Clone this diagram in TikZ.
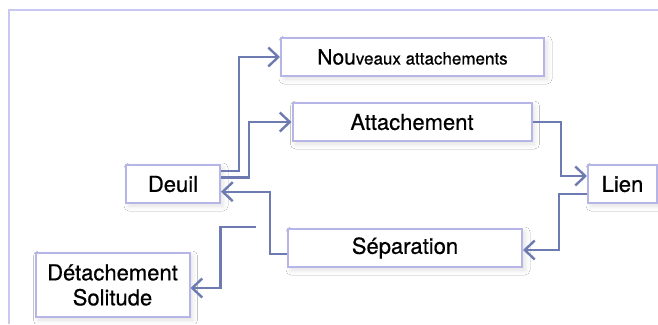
\documentclass[tikz,border=0pt]{standalone}
\usepackage{fontspec}
\setmainfont{TeX Gyre Heros}[FakeBold=0.6]
\usetikzlibrary{arrows.meta,shadows.blur}
\definecolor{linec}{HTML}{6E7BB0}
\definecolor{boxc}{HTML}{B5B5E8}
\definecolor{framec}{HTML}{C8C8F0}
\tikzset{
  box/.style={draw=boxc, line width=2pt, fill=white, rectangle, inner sep=0pt,
    font=\fontsize{22}{25}\selectfont, align=center,
    blur shadow={shadow xshift=3pt, shadow yshift=-3pt, shadow blur radius=5pt, shadow opacity=12}},
  conn/.style={draw=linec, line width=2.4pt, -{Straight Barb[length=10pt,width=19pt,line width=2.4pt]}},
}
\begin{document}
\begin{tikzpicture}[x=1pt,y=-1pt]
\useasboundingbox (0,0) rectangle (658,324);
\fill[white] (0,0) rectangle (658,324);
\draw[framec, line width=1.5pt] (9,324) -- (9,10) -- (658,10);

\node[box, minimum width=263pt, minimum height=38pt] (nouv) at (412.5,57)
  {\fontsize{21}{25}\selectfont Nou{\fontsize{17}{21}\selectfont veaux attachements}};
\node[box, minimum width=239pt, minimum height=38pt] (att) at (412,122) {Attachement};
\node[box, minimum width=94pt, minimum height=38pt] (deuil) at (173,184) {Deuil};
\node[box, minimum width=69pt, minimum height=38pt] (lien) at (622.5,184) {Lien};
\node[box, minimum width=234pt, minimum height=38pt] (sep) at (405,248) {Séparation};
\node[box, minimum width=154pt, minimum height=64pt] (det) at (112.5,285) {Détachement\\Solitude};
\coordinate (free) at (256,227);

\draw[conn] ([yshift=13pt]deuil.east) -- ++(18,0) |- (nouv.west);
\draw[conn] ([yshift=6.5pt]deuil.east) -- ++(28,0) |- (att.west);
\draw[conn] (att.east) -- ++(28.5,0) |- ([yshift=8pt]lien.west);
\draw[conn] ([yshift=-10pt]lien.west) -- ++(-28,0) |- ([yshift=-2pt]sep.east);
\draw[conn] ([yshift=-6pt]sep.west) -- ++(-17.3,0) |- ([yshift=-7.7pt]deuil.east);
\draw[conn] (free) -- ++(-35.7,0) |- ([yshift=-3pt]det.east);
\end{tikzpicture}
\end{document}
